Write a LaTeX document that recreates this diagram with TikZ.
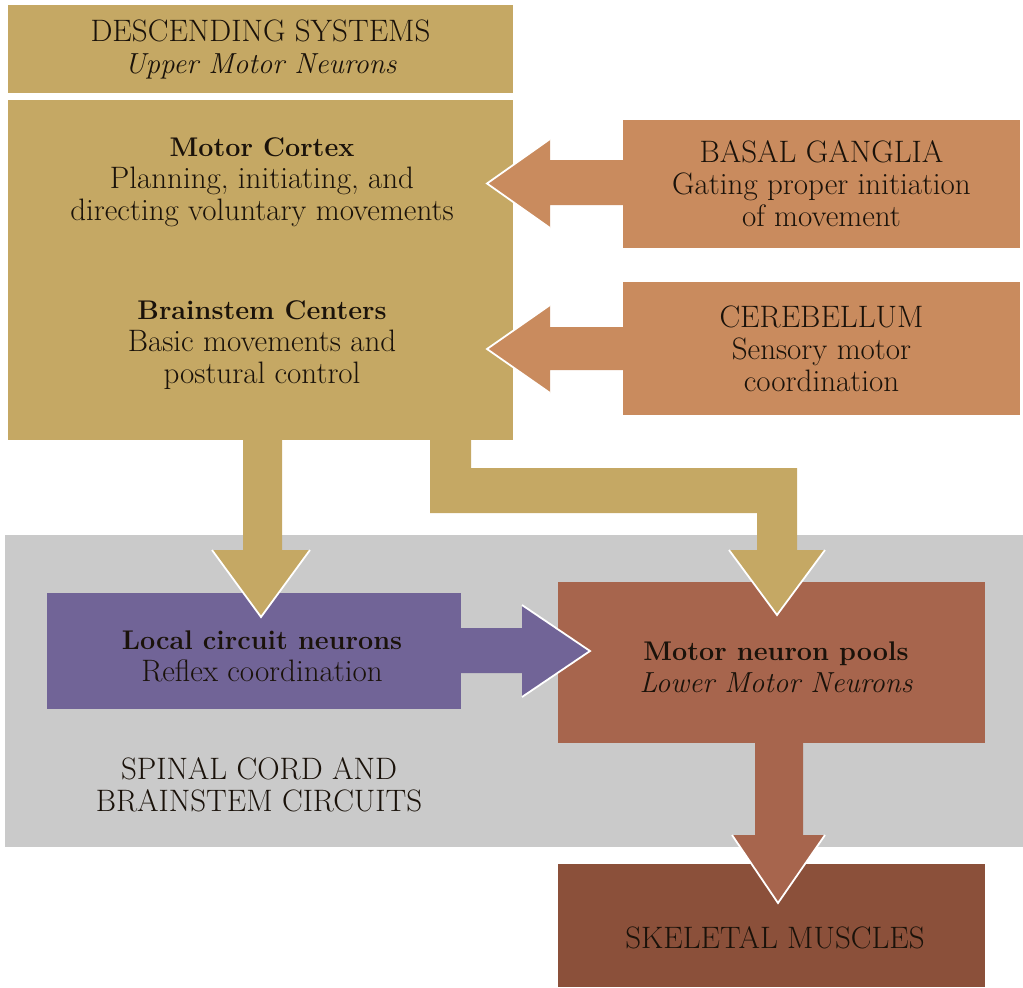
\documentclass[tikz,border=0pt]{standalone}
\definecolor{gold}{RGB}{197,168,100}
\definecolor{orangetan}{RGB}{201,139,94}
\definecolor{purplebox}{RGB}{113,100,151}
\definecolor{poolbrown}{RGB}{167,101,77}
\definecolor{skelbrown}{RGB}{139,80,58}
\definecolor{graybg}{RGB}{202,202,202}
\definecolor{ink}{RGB}{26,18,10}
\newcommand{\hdtext}[1]{{\fontsize{27}{32}\selectfont\bfseries #1}}
\newcommand{\ittext}[1]{{\fontsize{29}{32}\selectfont\itshape #1}}
\begin{document}
\begin{tikzpicture}[x=1pt,y=-1pt,
  every node/.style={font=\fontsize{31}{32}\selectfont, text=ink},
  box/.style={inner sep=0pt, outer sep=0pt, align=center, draw=none},
  txt/.style={align=center, inner sep=0pt},
  headedge/.style={draw=white, line width=1.8pt, line join=miter}]
\useasboundingbox (0,0) rectangle (1023,988);
% background panel
\node[box, fill=graybg, minimum width=1018pt, minimum height=312pt] (spinal) at (514,691) {};
% boxes
\node[box, fill=gold, minimum width=505pt, minimum height=88pt] (desc) at (260.5,49) {DESCENDING SYSTEMS\\\ittext{Upper Motor Neurons}};
\node[box, fill=gold, minimum width=505pt, minimum height=340pt] (upper) at (260.5,270) {};
\node[box, fill=orangetan, minimum width=397pt, minimum height=128pt] (basal) at (821.5,184) {BASAL GANGLIA\\Gating proper initiation\\of movement};
\node[box, fill=orangetan, minimum width=397pt, minimum height=133pt] (cereb) at (821.5,348.5) {CEREBELLUM\\Sensory motor\\coordination};
\node[box, fill=purplebox, minimum width=414pt, minimum height=116pt] (local) at (254,651) {};
\node[box, fill=poolbrown, minimum width=427pt, minimum height=161pt] (pool) at (771.5,662.5) {};
\node[box, fill=skelbrown, minimum width=427pt, minimum height=123pt] (skel) at (771.5,925.5) {};
% texts
\node[txt] (cortex) at (262,182) {\hdtext{Motor Cortex}\\Planning, initiating, and\\directing voluntary movements};
\node[txt] (brainstem) at (262,345) {\hdtext{Brainstem Centers}\\Basic movements and\\postural control};
\node[txt] (localtxt) at (262,656) {\hdtext{Local circuit neurons}\\Reflex coordination};
\node[txt] (pooltxt) at (776,667) {\hdtext{Motor neuron pools}\\\ittext{Lower Motor Neurons}};
\node[txt] (spinaltxt) at (259,785) {SPINAL CORD AND\\BRAINSTEM CIRCUITS};
\node[txt] (skeltxt) at (775,938) {SKELETAL MUSCLES};
% basal ganglia -> motor cortex
\fill[orangetan] (basal.west |- 0,160) -- (550,160) -- (550,139) -- (487,183.5) -- (550,228) -- (550,205) -- (basal.west |- 0,205) -- cycle;
\draw[headedge] (550,139) -- (487,183.5) -- (550,228);
% cerebellum -> brainstem
\fill[orangetan] (cereb.west |- 0,327) -- (550,327) -- (550,305) -- (487,349) -- (550,393) -- (550,370) -- (cereb.west |- 0,370) -- cycle;
\draw[headedge] (550,305) -- (487,349) -- (550,393);
% upper -> local circuit
\fill[gold] (243,438) -- (243,550) -- (212,550) -- (261,617) -- (310,550) -- (282,550) -- (282,438) -- cycle;
\draw[headedge] (212,550) -- (261,617) -- (310,550);
% upper -> motor neuron pools
\fill[gold] (430,438) -- (430,513) -- (757,513) -- (757,550) -- (729,550) -- (777,615) -- (825,550) -- (797,550) -- (797,468) -- (471,468) -- (471,438) -- cycle;
\draw[headedge] (729,550) -- (777,615) -- (825,550);
% local -> pool
\fill[purplebox] (459,628) -- (522,628) -- (522,605) -- (590,651) -- (522,697) -- (522,673) -- (459,673) -- cycle;
\draw[headedge] (522,605) -- (590,651) -- (522,697);
% pool -> skeletal muscles
\fill[poolbrown] (755,741) -- (755,835) -- (732,835) -- (778,903) -- (825,835) -- (803,835) -- (803,741) -- cycle;
\draw[headedge] (732,835) -- (778,903) -- (825,835);
\end{tikzpicture}
\end{document}
